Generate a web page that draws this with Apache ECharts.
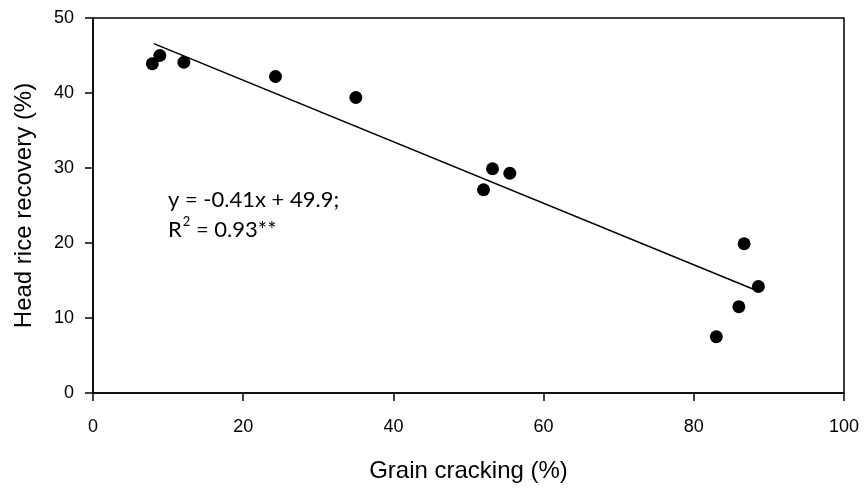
<!DOCTYPE html>
<html>
<head>
<meta charset="utf-8">
<script src="https://cdn.jsdelivr.net/npm/echarts@6/dist/echarts.min.js"></script>
<style>
  html, body { margin: 0; padding: 0; background: #fff; }
  #chart { width: 864px; height: 488px; }
</style>
</head>
<body>
<div id="chart"></div>
<script>
// Grain cracking (%) vs head rice recovery (%)
const grainCracking = [7.9, 8.9, 12.1, 24.3, 35.0, 52.0, 53.2, 55.5, 83.0, 86.0, 86.7, 88.6];
const headRice      = [43.9, 45.0, 44.1, 42.2, 39.4, 27.1, 29.9, 29.3, 7.5, 11.5, 19.9, 14.2];

// Linear fit: y = -0.41x + 49.9
const slope = -0.41;
const intercept = 49.9;
const fitRange = [8.1, 88.6];

const xTicks = [0, 20, 40, 60, 80, 100];
const yTicks = [0, 10, 20, 30, 40, 50];

const points = grainCracking.map((x, i) => [x, headRice[i]]);
const fitLine = fitRange.map(x => [x, slope * x + intercept]);

const chart = echarts.init(document.getElementById('chart'), null, { renderer: 'canvas' });

const axisFont = { fontFamily: 'Liberation Sans, Arial, sans-serif', color: '#000' };

chart.setOption({
  animation: false,
  backgroundColor: '#fff',
  grid: {
    left: 93, right: 20, top: 18, bottom: 95,
    show: true, borderColor: '#000', borderWidth: 1.5, backgroundColor: 'transparent'
  },
  xAxis: {
    type: 'value',
    min: xTicks[0], max: xTicks[xTicks.length - 1], interval: 20,
    name: 'Grain cracking (%)',
    nameLocation: 'middle', nameGap: 66,
    nameTextStyle: Object.assign({ fontSize: 24 }, axisFont),
    axisLine: { show: true, onZero: false, lineStyle: { color: '#000', width: 1.5 } },
    axisTick: { show: true, length: 8, inside: false, lineStyle: { color: '#000', width: 1.5 } },
    axisLabel: Object.assign({ fontSize: 18, margin: 25 }, axisFont),
    splitLine: { show: false }
  },
  yAxis: {
    type: 'value',
    min: yTicks[0], max: yTicks[yTicks.length - 1], interval: 10,
    name: 'Head rice recovery (%)',
    nameLocation: 'middle', nameGap: 57,
    nameTextStyle: Object.assign({ fontSize: 24 }, axisFont),
    axisLine: { show: true, onZero: false, lineStyle: { color: '#000', width: 1.5 } },
    axisTick: { show: true, length: 8, inside: false, lineStyle: { color: '#000', width: 1.5 } },
    axisLabel: Object.assign({ fontSize: 18, margin: 19 }, axisFont),
    splitLine: { show: false }
  },
  series: [
    {
      type: 'line',
      data: fitLine,
      symbol: 'none',
      lineStyle: { color: '#000', width: 1.5 },
      z: 2
    },
    {
      type: 'scatter',
      data: points,
      symbol: 'circle',
      symbolSize: 13,
      itemStyle: { color: '#000', opacity: 1 },
      z: 3
    }
  ],
  graphic: [
    {
      type: 'text',
      left: 168, top: 185,
      style: {
        text: 'y = -0.41x + 49.9;\n{r|R}{sup|2}{r| = 0.93**}',
        font: '22px Lato, "Open Sans", sans-serif',
        fill: '#000',
        lineHeight: 30,
        rich: {
          r: { fontSize: 22, fontFamily: 'Lato, sans-serif', fill: '#000' },
          sup: { fontSize: 13, fontFamily: 'Lato, sans-serif', fill: '#000', verticalAlign: 'top', padding: [0, 0, 12, 1] }
        }
      }
    }
  ]
});
</script>
</body>
</html>
